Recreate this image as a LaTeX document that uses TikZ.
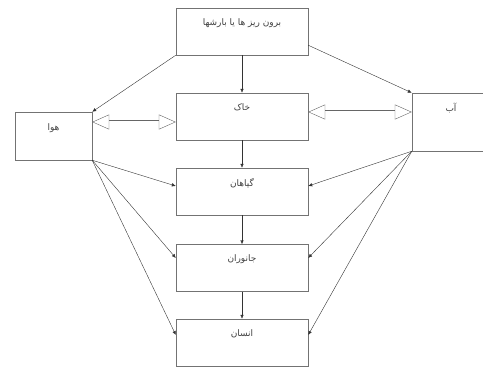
\documentclass[tikz,border=0pt]{standalone}
\usepackage{fontspec}
\newfontfamily\farsi[Script=Arabic]{DejaVu Sans}
\TeXXeTstate=1
\usetikzlibrary{arrows.meta, positioning}

\begin{document}
\begin{tikzpicture}[x=1pt, y=-1pt,
    box/.style={draw=black!55, rectangle, minimum width=132pt, minimum height=47pt, inner sep=0pt},
    sidebox/.style={draw=black!55, rectangle, inner sep=0pt},
    caption/.style={font=\farsi\fontsize{9}{11}\selectfont, text=black!75},
    flow/.style={draw=black!80, -{Latex[length=4pt,width=3.5pt]}},
    swap/.style={draw=black!60, double=white, double distance=3pt,
        {Triangle[open,length=17pt,width=15pt]}-{Triangle[open,length=17pt,width=15pt]}}]

        \useasboundingbox (0,0) rectangle (483,367);

        \node[box, label={[caption, below=7pt]north:\beginR برون ریز ها یا بارشها\endR}] (bar) at (242,31.5) {};
        \node[box, label={[caption, below=7pt]north:\beginR خاک\endR}] (khak) at (242,116.5) {};
        \node[box, label={[caption, below=7pt]north:\beginR گیاهان\endR}] (giyahan) at (242,191.5) {};
        \node[box, label={[caption, below=7pt]north:\beginR جانوران\endR}] (janvaran) at (242,268) {};
        \node[box, label={[caption, below=7pt]north:\beginR انسان\endR}] (ensan) at (242,342.5) {};
        \node[sidebox, minimum width=77pt, minimum height=48pt,
            label={[caption, below=8pt]north:\beginR هوا\endR}] (hava) at (53.5,136) {};
        \node[sidebox, minimum width=100pt, minimum height=58pt,
            label={[caption, below=7pt, xshift=-11pt]north:\beginR آب\endR}] (ab) at (462,122) {};

        \draw[flow] (bar) -- (khak);
        \draw[flow] (giyahan) -- (janvaran);
        \draw[flow] (janvaran) -- (ensan);
        \draw[flow] (khak) -- (giyahan);
        \draw[flow] (bar.south west) -- (hava.north east);
        \draw[flow] ([yshift=10pt]bar.south east) -- (ab.north west);

        \draw[swap] ([yshift=14pt]hava.east) -- ([yshift=-5.5pt]khak.west);
        \draw[swap] ([yshift=4.5pt]khak.east) -- ([yshift=10pt]ab.west);

        \foreach \to/\dy in {giyahan/5.5, janvaran/10, ensan/7.5}
        {
            \draw[flow] (hava.south east) -- ([yshift=\dy pt]\to.west);
            \draw[flow] (ab.south west) -- ([yshift=\dy pt]\to.east);
        }
\end{tikzpicture}
\end{document}
